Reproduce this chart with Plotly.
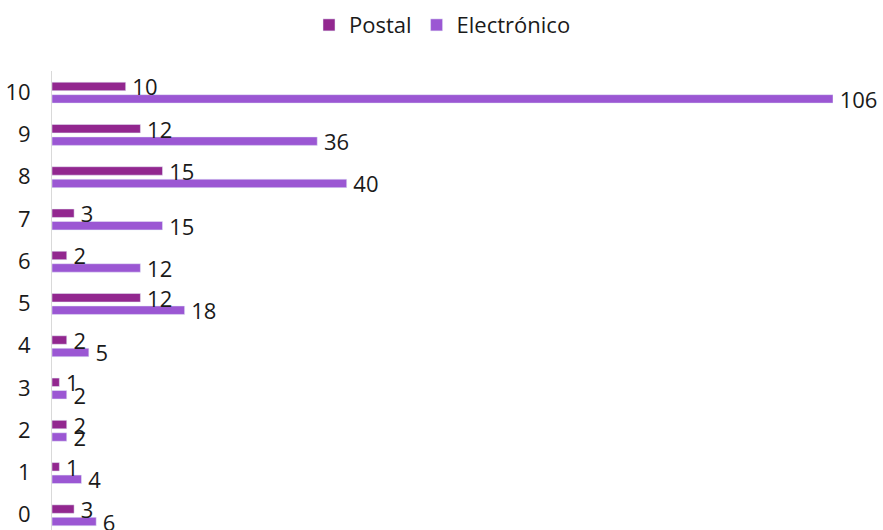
import plotly.graph_objs as go

categories = ["0", "1", "2", "3", "4", "5", "6", "7", "8", "9", "10"]
postal = [3, 1, 2, 1, 2, 12, 2, 3, 15, 12, 10]
electronico = [6, 4, 2, 2, 5, 18, 12, 15, 40, 36, 106]

FONT = "Open Sans, Noto Sans, sans-serif"

fig = go.Figure()

# horizontal grouped bars stack bottom-up, so Electrónico goes in first
fig.add_trace(go.Bar(
    y=categories, x=electronico, name="Electrónico", orientation="h",
    marker={"color": "#9B57D3"}, width=0.2, offset=-0.26,
    texttemplate="\u2009%{x}", textposition="outside", constraintext="none",
    textfont={"size": 22, "color": "#1a1a1a"}, cliponaxis=False,
    hoverinfo="x+name",
))
fig.add_trace(go.Bar(
    y=categories, x=postal, name="Postal", orientation="h",
    marker={"color": "#92278F"}, width=0.2, offset=0.035,
    texttemplate="\u2009%{x}", textposition="outside", constraintext="none",
    textfont={"size": 22, "color": "#1a1a1a"}, cliponaxis=False,
    hoverinfo="x+name",
))

fig.update_layout(
    width=883, height=530,
    margin={"l": 52, "r": 50, "t": 71, "b": 0, "autoexpand": False},
    plot_bgcolor="white", paper_bgcolor="white",
    font={"family": FONT, "size": 22, "color": "#1a1a1a"},
    legend={
        "orientation": "h", "x": 0.5, "xanchor": "center",
        "y": 1.1, "yanchor": "middle", "traceorder": "reversed",
        "font": {"size": 22}, "itemwidth": 30,
    },
    xaxis={"range": [0, 106], "visible": False, "automargin": False},
    yaxis={
        "type": "category", "range": [-0.36, 10.5], "automargin": False,
        "showline": True, "linecolor": "#d9d9d9", "linewidth": 1,
        "showgrid": False, "ticks": "", "ticklabelstandoff": 16,
        "tickfont": {"size": 22},
    },
)

# the page's default 8px body margin would push the figure off its spot
fig.write_html(
    "out.html",
    config={"displayModeBar": False},
    post_script="document.body.style.margin = '0';",
)
